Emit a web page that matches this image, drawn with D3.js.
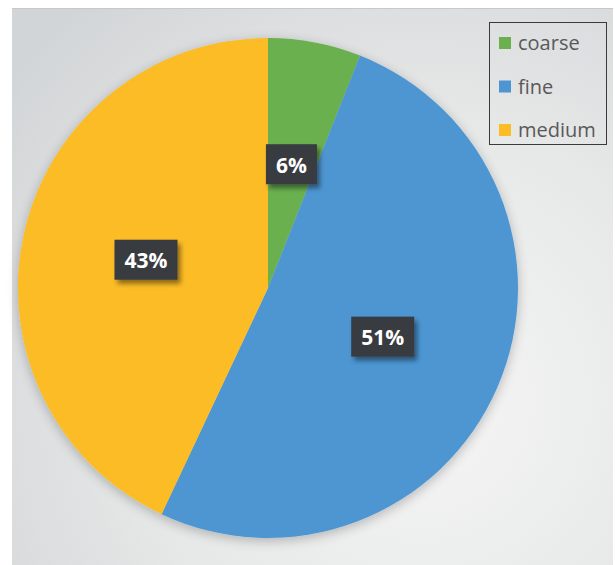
<!DOCTYPE html>
<html>
<head>
<meta charset="utf-8">
<script src="https://cdn.jsdelivr.net/npm/d3@7"></script>
<style>
  body { margin: 0; background: #fff; }
  svg { display: block; }
</style>
</head>
<body>
<div id="chart-area"></div>
<script>
//data
var categories = ["coarse", "fine", "medium"];
var shares = [6, 51, 43];
var colors = ["#6ab04f", "#4e96d2", "#fcbc25"];

//frame setting
var width = 615, height = 565,
    cx = 268, cy = 288, radius = 250;

var svg = d3.select("#chart-area")
    .append("svg")
        .attr("width", width)
        .attr("height", height);

var defs = svg.append("defs");

//background gradient, light in the middle, gray at the edges
var bg = defs.append("radialGradient")
    .attr("id", "bg")
    .attr("gradientUnits", "userSpaceOnUse")
    .attr("cx", 420).attr("cy", 400).attr("r", 520);
bg.append("stop").attr("offset", "0%").attr("stop-color", "#f6f6f6");
bg.append("stop").attr("offset", "55%").attr("stop-color", "#e6e7e7");
bg.append("stop").attr("offset", "100%").attr("stop-color", "#d2d5d7");

//soft shadow round the pie
var glow = defs.append("filter").attr("id", "glow")
    .attr("x", "-20%").attr("y", "-20%").attr("width", "140%").attr("height", "140%");
glow.append("feGaussianBlur").attr("in", "SourceAlpha").attr("stdDeviation", 6);
glow.append("feOffset").attr("dx", 0).attr("dy", 3).attr("result", "b");
glow.append("feComponentTransfer").append("feFuncA").attr("type", "linear").attr("slope", 0.25);
var gm = glow.append("feMerge");
gm.append("feMergeNode");
gm.append("feMergeNode").attr("in", "SourceGraphic");

//shadow for the label boxes
var sh = defs.append("filter").attr("id", "shadow")
    .attr("x", "-30%").attr("y", "-30%").attr("width", "170%").attr("height", "180%");
sh.append("feGaussianBlur").attr("in", "SourceAlpha").attr("stdDeviation", 2.5);
sh.append("feOffset").attr("dx", 3).attr("dy", 4);
sh.append("feComponentTransfer").append("feFuncA").attr("type", "linear").attr("slope", 0.45);
var sm = sh.append("feMerge");
sm.append("feMergeNode");
sm.append("feMergeNode").attr("in", "SourceGraphic");

svg.append("rect")
    .attr("x", 12).attr("y", 8)
    .attr("width", 601).attr("height", 560)
    .attr("fill", "url(#bg)");
svg.append("line")
    .attr("x1", 12).attr("x2", 613).attr("y1", 8.5).attr("y2", 8.5)
    .attr("stroke", "#c6c8c9");

//pie
var pie = d3.pie().sort(null).value(d => d);
var arc = d3.arc().innerRadius(0).outerRadius(radius);
var arcs = pie(shares);

var g = svg.append("g").attr("transform", "translate(" + cx + "," + cy + ")");

g.append("g").attr("filter", "url(#glow)")
    .selectAll("path")
    .data(arcs)
    .enter().append("path")
        .attr("d", arc)
        .attr("fill", (d, i) => colors[i]);

//data labels
var total = d3.sum(shares);
var fmt = d => Math.round(d.value / total * 100) + "%";

var lab = g.selectAll(".label")
    .data(arcs)
    .enter().append("g")
        .attr("class", "label")
        .attr("transform", d => "translate(" + arc.centroid(d) + ")");

lab.append("text")
    .attr("text-anchor", "middle")
    .attr("dy", "0.36em")
    .attr("font-family", "'Open Sans', sans-serif")
    .attr("font-weight", "bold")
    .attr("font-size", 21)
    .attr("fill", "#fff")
    .text(fmt);

lab.each(function() {
    var t = d3.select(this).select("text");
    var bb = t.node().getBBox();
    var w = bb.width + 20, h = 40;
    d3.select(this).insert("rect", "text")
        .attr("x", -w / 2).attr("y", -h / 2 - 1)
        .attr("width", w).attr("height", h)
        .attr("fill", "#383b41")
        .attr("filter", "url(#shadow)");
});

//legend
var legend = svg.append("g").attr("transform", "translate(489,22)");
legend.append("rect")
    .attr("x", 0.5).attr("y", 0.5)
    .attr("width", 117).attr("height", 122)
    .attr("fill", "none")
    .attr("stroke", "#3a3a3a");

var item = legend.selectAll(".item")
    .data(categories)
    .enter().append("g")
        .attr("class", "item")
        .attr("transform", (d, i) => "translate(10," + (15 + i * 43.5) + ")");

item.append("rect")
    .attr("width", 12).attr("height", 12)
    .attr("fill", (d, i) => colors[i]);

item.append("text")
    .attr("x", 19).attr("y", 6)
    .attr("dy", "0.35em")
    .attr("font-family", "'Open Sans', sans-serif")
    .attr("font-size", 20)
    .attr("fill", "#595959")
    .text(d => d);
</script>
</body>
</html>
